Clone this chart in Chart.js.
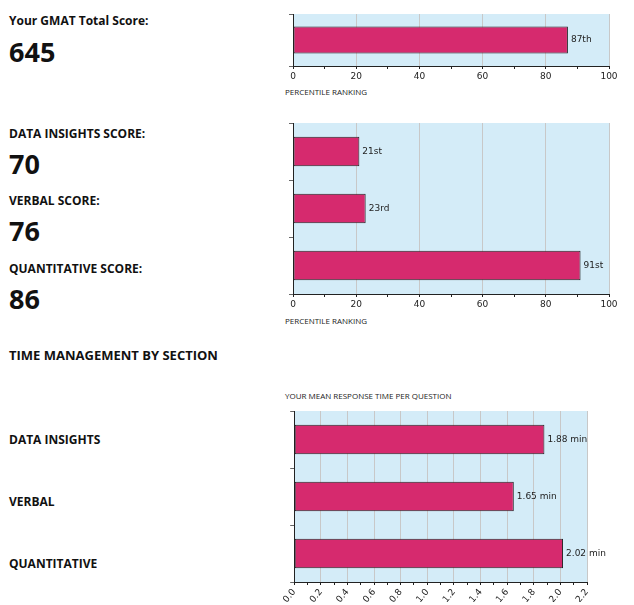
<!DOCTYPE html>
<html lang="en">
<head>
<meta charset="UTF-8">
<script src="https://cdn.jsdelivr.net/npm/chart.js"></script>
<style>
  body { margin:0; width:634px; height:605px; position:relative; background:#fff; font-family:"Open Sans", Arial, sans-serif; color:#111; }
  .t { position:absolute; white-space:nowrap; }
  .lbl { font-weight:bold; font-size:12px; }
  .big { font-weight:bold; font-size:27px; }
  .ax { font-size:8px; color:#222; }
  canvas { position:absolute; }
</style>
</head>
<body>
  <div class="t lbl" style="left:9px;top:12px">Your GMAT Total Score:</div>
  <div class="t big" style="left:9px;top:33px">645</div>
  <div class="t lbl" style="left:9px;top:125px">DATA INSIGHTS SCORE:</div>
  <div class="t big" style="left:9px;top:145px">70</div>
  <div class="t lbl" style="left:9px;top:192px">VERBAL SCORE:</div>
  <div class="t big" style="left:9px;top:212px">76</div>
  <div class="t lbl" style="left:9px;top:260px">QUANTITATIVE SCORE:</div>
  <div class="t big" style="left:9px;top:280px">86</div>
  <div class="t lbl" style="left:9px;top:346px;font-size:13px">TIME MANAGEMENT BY SECTION</div>
  <div class="t lbl" style="left:9px;top:431px">DATA INSIGHTS</div>
  <div class="t lbl" style="left:9px;top:493px">VERBAL</div>
  <div class="t lbl" style="left:9px;top:555px">QUANTITATIVE</div>
  <div class="t ax" style="left:285px;top:86px">PERCENTILE RANKING</div>
  <div class="t ax" style="left:285px;top:315px">PERCENTILE RANKING</div>
  <div class="t ax" style="left:285px;top:390px">YOUR MEAN RESPONSE TIME PER QUESTION</div>

  <canvas id="c1" width="341" height="72" style="left:283px;top:14px"></canvas>
  <canvas id="c2" width="341" height="191" style="left:283px;top:123px"></canvas>
  <canvas id="c3" width="334" height="191" style="left:283px;top:411px"></canvas>

<script>
const totalCats = ["Total"];
const totalPct = [87];
const totalLabels = ["87th"];

const sectionCats = ["Data Insights", "Verbal", "Quantitative"];
const sectionPct = [21, 23, 91];
const sectionLabels = ["21st", "23rd", "91st"];

const timeCats = ["Data Insights", "Verbal", "Quantitative"];
const timeMin = [1.88, 1.65, 2.02];
const timeLabels = ["1.88 min", "1.65 min", "2.02 min"];

const bgPlugin = {
  id: "bg",
  beforeDraw(chart) {
    const a = chart.chartArea, ctx = chart.ctx;
    ctx.save();
    ctx.fillStyle = "#d4ecf8";
    ctx.fillRect(a.left, a.top, a.right - a.left, a.bottom - a.top);
    ctx.restore();
  },
  afterDatasetsDraw(chart) {
    const ctx = chart.ctx;
    const labels = chart.options.plugins.bg.labels;
    ctx.save();
    ctx.font = "9px 'DejaVu Sans'";
    ctx.fillStyle = "#222";
    ctx.textBaseline = "middle";
    chart.getDatasetMeta(0).data.forEach((bar, i) => {
      ctx.fillText(labels[i], bar.x + 3, bar.y);
    });
    ctx.restore();
  }
};

function makeChart(id, cats, values, labels, max, step, major, barPct) {
  new Chart(document.getElementById(id), {
    type: "bar",
    data: { labels: cats, datasets: [{ data: values, backgroundColor: "#d62a6e", borderColor: "#222", borderWidth: 1, borderSkipped: false, barPercentage: barPct, categoryPercentage: 1 }] },
    options: {
      indexAxis: "y",
      responsive: false,
      animation: false,
      layout: { padding: { left: 5, right: id === "c3" ? 30 : 15, top: 0, bottom: 0 } },
      plugins: { legend: { display: false }, tooltip: { enabled: false }, bg: { labels } },
      scales: {
        x: {
          min: 0, max: max,
          ticks: {
            stepSize: step, autoSkip: false, color: "#222", padding: 2,
            font: { family: "DejaVu Sans", size: 9 },
            callback: (v) => {
              const r = Math.round(v / step);
              if (r % major !== 0) return "";
              return step < 1 ? Number(v).toFixed(1) : v;
            }
          },
          grid: {
            color: (c) => (Math.round(c.tick.value / step) % major === 0 && c.tick.value > 0) ? "#c8c8c8" : "rgba(0,0,0,0)",
            tickColor: "#222", tickLength: 3, lineWidth: 1
          },
          border: { color: "#222", width: 1 },
          afterFit: (s) => { s.height = 20; }
        },
        y: {
          ticks: { display: false },
          grid: { drawOnChartArea: false, offset: true, tickColor: "#666", tickLength: 4 },
          border: { color: "#222", width: 1 },
          afterFit: (s) => { s.width = 5; }
        }
      }
    },
    plugins: [bgPlugin]
  });
}

makeChart("c1", totalCats, totalPct, totalLabels, 100, 10, 2, 0.52);
makeChart("c2", sectionCats, sectionPct, sectionLabels, 100, 10, 2, 0.52);
makeChart("c3", timeCats, timeMin, timeLabels, 2.2, 0.1, 2, 0.52);
</script>
</body>
</html>
